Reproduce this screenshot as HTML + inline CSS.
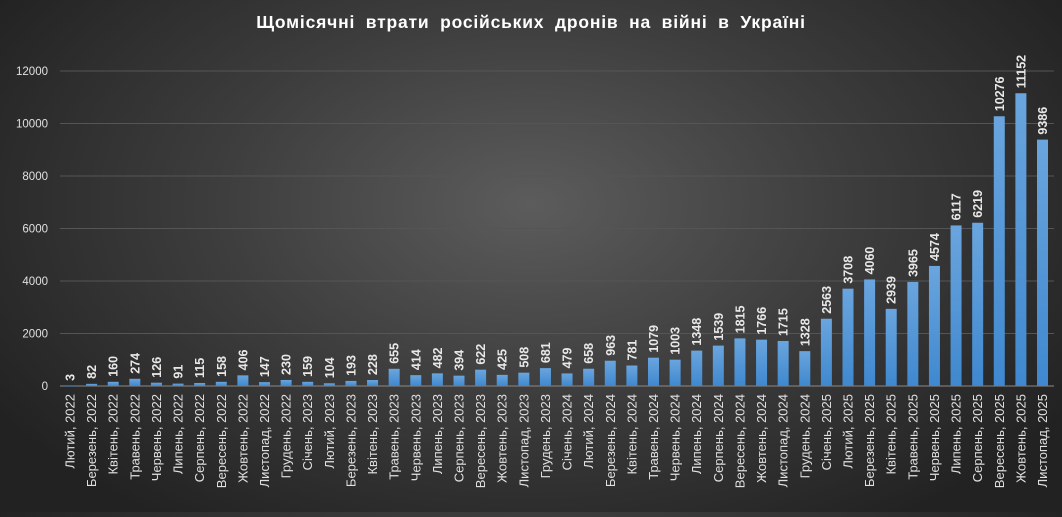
<!DOCTYPE html>
<html><head><meta charset="utf-8"><style>
html,body{margin:0;padding:0}
body{width:1062px;height:512px;overflow:hidden;background:radial-gradient(ellipse 60% 75% at 50% 40%,#5c5c5c 0%,#3d3d3d 50%,#222 100%);font-family:"Liberation Sans",sans-serif}
</style></head><body>
<svg id="chart" width="1062" height="512" xmlns="http://www.w3.org/2000/svg">
<defs><linearGradient id="bg" x1="0" y1="0" x2="0" y2="1"><stop offset="0" stop-color="#6aa5de"/><stop offset="1" stop-color="#3f88cf"/></linearGradient></defs>
<text x="531" y="28" text-anchor="middle" fill="#ffffff" font-size="17.5" font-weight="bold" letter-spacing="0.8" word-spacing="5">Щомісячні втрати російських дронів на війні в Україні</text>
<g id="grid"></g><g id="bars"></g>
</svg>
<script>
const categories=["Лютий, 2022","Березень, 2022","Квітень, 2022","Травень, 2022","Червень, 2022","Липень, 2022","Серпень, 2022","Вересень, 2022","Жовтень, 2022","Листопад, 2022","Грудень, 2022","Січень, 2023","Лютий, 2023","Березень, 2023","Квітень, 2023","Травень, 2023","Червень, 2023","Липень, 2023","Серпень, 2023","Вересень, 2023","Жовтень, 2023","Листопад, 2023","Грудень, 2023","Січень, 2024","Лютий, 2024","Березень, 2024","Квітень, 2024","Травень, 2024","Червень, 2024","Липень, 2024","Серпень, 2024","Вересень, 2024","Жовтень, 2024","Листопад, 2024","Грудень, 2024","Січень, 2025","Лютий, 2025","Березень, 2025","Квітень, 2025","Травень, 2025","Червень, 2025","Липень, 2025","Серпень, 2025","Вересень, 2025","Жовтень, 2025","Листопад, 2025"];
const values=[3,82,160,274,126,91,115,158,406,147,230,159,104,193,228,655,414,482,394,622,425,508,681,479,658,963,781,1079,1003,1348,1539,1815,1766,1715,1328,2563,3708,4060,2939,3965,4574,6117,6219,10276,11152,9386];
const yTicks=[0,2000,4000,6000,8000,10000,12000];
const NS="http://www.w3.org/2000/svg";
const y0=386,yMax=12000,plotH=315;
function y(v){return y0-v/yMax*plotH;}
function x(i){return 70+i*(1042.5-70)/(categories.length-1);}
const grid=document.getElementById('grid'),bars=document.getElementById('bars');
yTicks.forEach(t=>{
 const l=document.createElementNS(NS,'line');
 
 
 l.setAttribute('x1',60);l.setAttribute('x2',1054);l.setAttribute('y1',y(t));l.setAttribute('y2',y(t));
 l.setAttribute('stroke',t===0?'#8a8a8a':'#555');l.setAttribute('stroke-width',1);grid.appendChild(l);
 const tx=document.createElementNS(NS,'text');
 
 
 tx.setAttribute('x',48);tx.setAttribute('y',y(t)+4);tx.setAttribute('text-anchor','end');tx.setAttribute('fill','#e0e0e0');tx.setAttribute('font-size','11.5');tx.textContent=t;grid.appendChild(tx);
});
values.forEach((v,i)=>{
 const cx=x(i),w=11;
 const r=document.createElementNS(NS,'rect');
 
 
 r.setAttribute('x',cx-w/2);r.setAttribute('y',y(v));r.setAttribute('width',w);r.setAttribute('height',Math.max(0.5,y0-y(v)));r.setAttribute('fill','url(#bg)');bars.appendChild(r);
 const vl=document.createElementNS(NS,'text');
 
 
 vl.setAttribute('transform',`translate(${cx+4.5},${y(v)-5}) rotate(-90)`);vl.setAttribute('fill','#e8e8e8');vl.setAttribute('font-size','12.5');vl.setAttribute('font-weight','bold');vl.textContent=v;bars.appendChild(vl);
 const cl=document.createElementNS(NS,'text');
 
 
 cl.setAttribute('transform',`translate(${cx+4.5},394) rotate(-90)`);cl.setAttribute('text-anchor','end');cl.setAttribute('fill','#e0e0e0');cl.setAttribute('font-size','13');cl.textContent=categories[i];bars.appendChild(cl);
});
</script>
</body></html>
